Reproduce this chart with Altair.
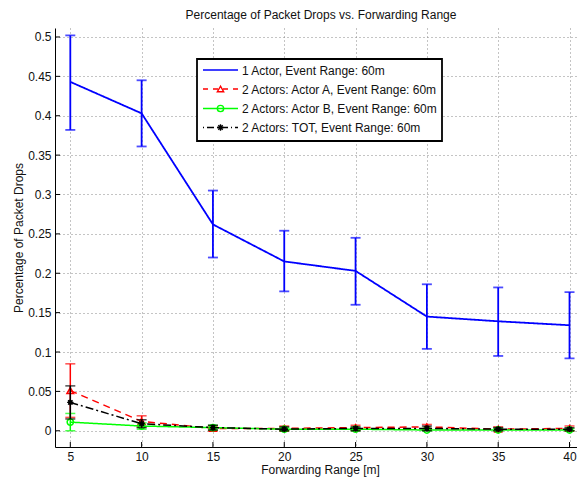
import altair as alt
import pandas as pd

# ---- data ----
x_vals = [5, 10, 15, 20, 25, 30, 35, 40]

one_actor = [0.443, 0.403, 0.262, 0.215, 0.203, 0.145, 0.139, 0.134]
one_lo = [0.382, 0.361, 0.220, 0.177, 0.160, 0.104, 0.095, 0.092]
one_hi = [0.502, 0.445, 0.305, 0.254, 0.245, 0.186, 0.182, 0.176]

actor_a = [0.051, 0.012, 0.003, 0.003, 0.004, 0.005, 0.002, 0.003]
a_lo = [0.017, 0.005, 0.000, 0.000, 0.001, 0.001, 0.000, 0.000]
a_hi = [0.085, 0.019, 0.006, 0.006, 0.007, 0.008, 0.005, 0.006]

actor_b = [0.011, 0.006, 0.004, 0.002, 0.002, 0.001, 0.001, 0.001]
b_lo = [0.000, 0.002, 0.001, 0.000, 0.000, 0.000, 0.000, 0.000]
b_hi = [0.022, 0.010, 0.007, 0.004, 0.004, 0.003, 0.003, 0.003]

tot = [0.036, 0.009, 0.004, 0.002, 0.003, 0.003, 0.002, 0.002]
t_lo = [0.015, 0.004, 0.001, 0.000, 0.000, 0.000, 0.000, 0.000]
t_hi = [0.057, 0.014, 0.007, 0.005, 0.005, 0.006, 0.004, 0.004]

x_ticks = [5, 10, 15, 20, 25, 30, 35, 40]
y_ticks = [0, 0.05, 0.1, 0.15, 0.2, 0.25, 0.3, 0.35, 0.4, 0.45, 0.5]

labels = [
    "1 Actor, Event Range: 60m",
    "2 Actors: Actor A, Event Range: 60m",
    "2 Actors: Actor B, Event Range: 60m",
    "2 Actors: TOT, Event Range: 60m",
]

W, H = 522, 419
FONT = "Liberation Sans"
FS = 12

xs = alt.Scale(domain=[3.927, 40.525], nice=False, zero=False)
ys = alt.Scale(domain=[-0.0206, 0.5114], nice=False, zero=False)

ASTERISK = "M-1,0L1,0M0,-1L0,1M-0.7,-0.7L0.7,0.7M-0.7,0.7L0.7,-0.7"


def frame(v, lo, hi):
    return pd.DataFrame({"x": x_vals, "v": v, "lo": lo, "hi": hi})


def series(df, color, dash, width=1.5, shape=None, filled=False, msize=40):
    base = alt.Chart(df)
    X = alt.X("x:Q", scale=xs)
    line = base.mark_line(color=color, strokeWidth=width, strokeDash=dash, clip=True).encode(
        x=X, y=alt.Y("v:Q", scale=ys)
    )
    bar = base.mark_rule(color=color, strokeWidth=width).encode(
        x=X, y=alt.Y("lo:Q", scale=ys), y2="hi:Q"
    )
    cap_lo = base.mark_tick(color=color, thickness=width, size=10, orient="horizontal").encode(
        x=X, y=alt.Y("lo:Q", scale=ys)
    )
    cap_hi = base.mark_tick(color=color, thickness=width, size=10, orient="horizontal").encode(
        x=X, y=alt.Y("hi:Q", scale=ys)
    )
    layers = [line, bar, cap_lo, cap_hi]
    if shape is not None:
        pts = base.mark_point(
            shape=shape, color=color, filled=filled, size=msize, strokeWidth=1.5, opacity=1
        ).encode(x=X, y=alt.Y("v:Q", scale=ys))
        layers.append(pts)
    return layers


axis_x = alt.Axis(
    values=x_ticks, title="Forwarding Range [m]", grid=True, gridDash=[1, 3],
    gridColor="#888", tickSize=0, ticks=False, labelPadding=4, labelFontSize=FS,
    labelFont=FONT, labelColor="#111", domainColor="#000", domainWidth=1,
    titleFont=FONT, titleFontSize=FS, titleFontWeight="normal", titleColor="#111",
    titleX=265, titleY=17, titleBaseline="top",
)
axis_y = alt.Axis(
    values=y_ticks, format="~g", title="Percentage of Packet Drops", grid=True,
    gridDash=[1, 3], gridColor="#888", tickSize=0, ticks=False, labelPadding=4,
    labelFontSize=FS, labelFont=FONT, labelColor="#111", domainColor="#000",
    domainWidth=1, titleFont=FONT, titleFontSize=FS, titleFontWeight="normal",
    titleColor="#111", titleX=-30, titleY=H / 2, titleAngle=270, titleBaseline="bottom",
)

# axes + grid layer
axes = alt.Chart(pd.DataFrame({"x": [x_vals[0]], "v": [0.0]})).mark_point(opacity=0).encode(
    x=alt.X("x:Q", scale=xs, axis=axis_x), y=alt.Y("v:Q", scale=ys, axis=axis_y)
)

# inward ticks
xt = alt.Chart(pd.DataFrame({"t": x_ticks})).mark_rule(color="#000", strokeWidth=1).encode(
    x=alt.X("t:Q", scale=xs), y=alt.value(H), y2=alt.value(H - 5)
)
yt = alt.Chart(pd.DataFrame({"t": y_ticks})).mark_rule(color="#000", strokeWidth=1).encode(
    y=alt.Y("t:Q", scale=ys), x=alt.value(0), x2=alt.value(5)
)

layers = [axes, xt, yt]
layers += series(frame(one_actor, one_lo, one_hi), "#0000ff", [1, 0], width=1.8)
layers += series(frame(actor_a, a_lo, a_hi), "#ff0000", [7, 5], shape="triangle-up", msize=45)
layers += series(frame(actor_b, b_lo, b_hi), "#00ff00", [1, 0], shape="circle", msize=40)
layers += series(frame(tot, t_lo, t_hi), "#000000", [8, 3, 2, 3], shape="circle", filled=True, msize=22)
layers.append(
    alt.Chart(frame(tot, t_lo, t_hi)).mark_point(shape=ASTERISK, color="#000", size=40, strokeWidth=1.3, opacity=1).encode(
        x=alt.X("x:Q", scale=xs), y=alt.Y("v:Q", scale=ys)
    )
)

# legend box
one = pd.DataFrame({"k": [0]})
layers.append(
    alt.Chart(one).mark_rect(fill="white", stroke="black", strokeWidth=1.8).encode(
        x=alt.value(142), x2=alt.value(387), y=alt.value(31), y2=alt.value(113)
    )
)
rows_y = [42, 61, 80.5, 99.5]
colors = ["#0000ff", "#ff0000", "#00ff00", "#000000"]
dashes = [[1, 0], [5, 5], [1, 0], [1, 3, 7, 3]]
shapes = [None, "triangle-up", "circle", ASTERISK]
for lab, yy, c, d, s in zip(labels, rows_y, colors, dashes, shapes):
    layers.append(
        alt.Chart(one).mark_rule(color=c, strokeWidth=1.6, strokeDash=d).encode(
            x=alt.value(148), x2=alt.value(183), y=alt.value(yy)
        )
    )
    if s is not None:
        layers.append(
            alt.Chart(one).mark_point(shape=s, color=c, size=40, strokeWidth=1.4, opacity=1, filled=False).encode(
                x=alt.value(165.5), y=alt.value(yy)
            )
        )
    layers.append(
        alt.Chart(one).mark_text(text=lab, align="left", baseline="middle", font=FONT, fontSize=FS, color="#111").encode(
            x=alt.value(187), y=alt.value(yy + 0.5)
        )
    )

chart = alt.layer(*layers).properties(
    width=W,
    height=H,
    title=alt.TitleParams(
        "Percentage of Packet Drops vs. Forwarding Range", font=FONT, fontSize=FS,
        fontWeight="normal", color="#111", anchor="middle", dx=5, offset=6,
    ),
    autosize=alt.AutoSizeParams(type="none"),
    padding={"left": 47, "top": 20, "right": 0, "bottom": 34},
).configure_view(stroke=None)

chart.save("out.html", embed_options={"renderer": "svg", "actions": False})
